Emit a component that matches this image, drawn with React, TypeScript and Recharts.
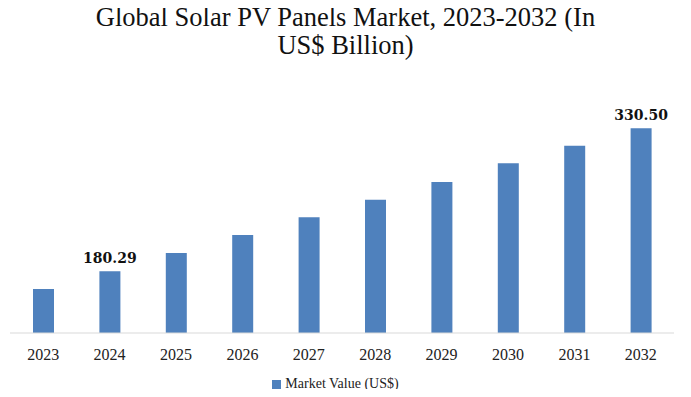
import React from 'react';
import { BarChart, Bar, XAxis, YAxis, Legend, LabelList } from 'recharts';

const YEARS = ['2023', '2024', '2025', '2026', '2027', '2028', '2029', '2030', '2031', '2032'];
const MARKET_VALUE = [161.7, 180.29, 199.5, 218.4, 237.0, 255.5, 274.1, 293.7, 312.2, 330.5];
const SHOWN_LABELS = ['', '180.29', '', '', '', '', '', '', '', '330.50'];

const data = YEARS.map((year, i) => ({ year, value: MARKET_VALUE[i], label: SHOWN_LABELS[i] }));

const FONT = '"Liberation Serif", "DejaVu Serif", serif';
const BLUE = '#4f81bd';

export default function App() {
  return (
    <div style={{ position: 'relative', width: 691, height: 397, background: '#fff', margin: -8, fontFamily: FONT }}>
      {/* title sits above the plot as plain html */}
      <div
        style={{
          position: 'absolute',
          top: 3,
          left: 0,
          width: 691,
          textAlign: 'center',
          fontSize: 26.5,
          lineHeight: '28px',
          color: '#111',
        }}
      >
        Global Solar PV Panels Market, 2023-2032 (In
        <br />
        US$ Billion)
      </div>
      <BarChart width={691} height={397} data={data} margin={{ top: 93, right: 17, left: 10, bottom: 34 }}>
        <XAxis
          dataKey="year"
          height={30}
          axisLine={{ stroke: '#d9d9d9' }}
          tickLine={false}
          tick={{ fontSize: 16, fill: '#222', fontFamily: FONT }}
          tickMargin={10}
        />
        <YAxis hide type="number" domain={[115.5, 367.6]} allowDataOverflow />
        <Legend
          verticalAlign="middle"
          layout="horizontal"
          iconType="square"
          iconSize={9}
          wrapperStyle={{ top: 376, left: -5, width: 691, fontSize: 14, fontFamily: FONT }}
          formatter={(v) => <span style={{ color: '#222' }}>{v}</span>}
        />
        <Bar dataKey="value" name="Market Value (US$)" fill={BLUE} barSize={21} isAnimationActive={false}>
          <LabelList
            dataKey="label"
            position="top"
            offset={8}
            style={{ fontSize: 14, fontWeight: 'bold', fill: '#111', fontFamily: '"DejaVu Serif", serif' }}
          />
        </Bar>
      </BarChart>
    </div>
  );
}
